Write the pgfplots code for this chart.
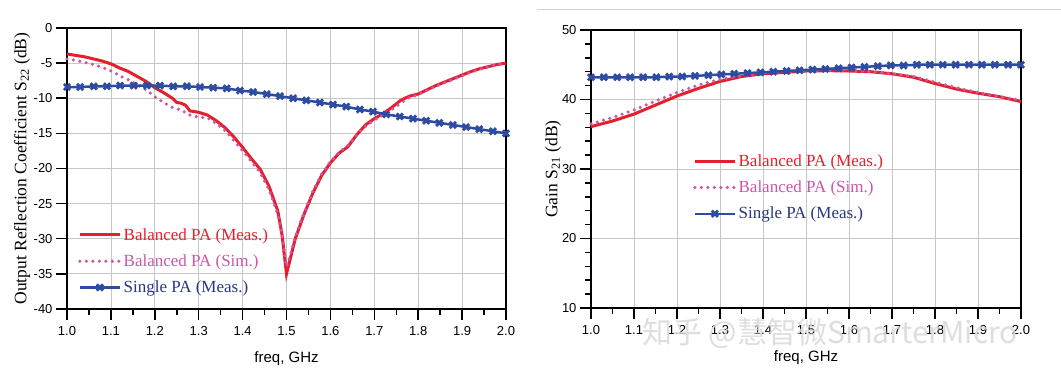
\documentclass[border=0pt]{standalone}
\usepackage{fontspec}
\setmainfont{Liberation Serif}
\setsansfont{Liberation Sans}
\newfontfamily\cjk{Noto Sans CJK SC}
\usepackage{pgfplots}
\pgfplotsset{compat=1.18}
\definecolor{cred}{RGB}{228,32,44}
\definecolor{cpink}{RGB}{205,85,170}
\definecolor{cblue}{RGB}{45,75,160}
\definecolor{cnavy}{RGB}{40,55,130}
\pgfplotsset{
  myax/.style={
    scale only axis,
    clip=false,
    xmin=1, xmax=2,
    xtick={1.0,1.1,1.2,1.3,1.4,1.5,1.6,1.7,1.8,1.9,2.0},
    minor x tick num=1,
    xtick pos=left, ytick pos=left,
    xmajorgrids, ymajorgrids,
    major grid style={gray!45, line width=0.8pt},
    tick align=outside,
    major tick length=11pt, minor tick length=6pt,
    every major tick/.style={black, line width=1.5pt},
    every minor tick/.style={black, line width=1.5pt},
    axis line style={black, line width=1.2pt},
    tick label style={font=\sffamily\fontsize{13}{15}\selectfont},
    /pgf/number format/assume math mode=true,
    x tick label style={yshift=-3pt, /pgf/number format/fixed, /pgf/number format/fixed zerofill, /pgf/number format/precision=1},
    xlabel={freq, GHz},
    xlabel style={font=\sffamily\fontsize{15}{17}\selectfont, anchor=center},
    ylabel style={font=\fontsize{17.5}{19}\selectfont, anchor=center},
    legend style={draw=none, fill=none, font=\fontsize{17}{19}\selectfont, anchor=north west, row sep=9pt, inner sep=0pt, nodes={inner sep=2pt}},
    legend cell align=left,
    legend image code/.code={\draw[mark repeat=2,mark phase=2,##1] plot coordinates {(0pt,0pt) (20pt,0pt) (40pt,0pt)};},
  },
  meas/.style={cred, line width=3pt, no markers},
  sim/.style={cpink, line width=3.5pt, line cap=round, dash pattern=on 0pt off 6.5pt, no markers},
  single/.style={cblue, line width=2.5pt, mark=x, mark size=4.4pt, mark options={solid, line width=2.8pt}},
}
\begin{document}
\begin{tikzpicture}
\useasboundingbox (0,0) rectangle (1061pt,377pt);
\fill[white] (0,0) rectangle (1061pt,377pt);
\draw[gray!35, line width=0.8pt] (537pt,368pt) -- (1061pt,368pt);
% Left panel
\begin{axis}[myax,
  at={(67pt,68pt)}, anchor=south west,
  width=439pt, height=281pt,
  ymin=-40, ymax=0,
  ytick={-40,-35,-30,-25,-20,-15,-10,-5,0},
  ylabel={Output Reflection Coefficient S\textsubscript{22} (dB)},
  ylabel style={at={(axis description cs:-0.1025,0.5)}},
  xlabel style={at={(axis description cs:0.5,-0.178)}},
  legend style={at={(0.025,0.295)}},
]
\addplot[meas] coordinates {
(1.00,-3.7) (1.02,-3.9) (1.04,-4.1) (1.06,-4.4) (1.08,-4.7) (1.10,-5.1) (1.12,-5.7) (1.14,-6.2) (1.16,-6.9) (1.18,-7.6) (1.20,-8.5) (1.22,-9.2) (1.24,-10.0) (1.25,-10.6) (1.26,-10.7) (1.27,-11.0) (1.28,-11.8) (1.30,-12.0) (1.32,-12.4) (1.34,-13.2) (1.36,-14.2) (1.38,-15.5) (1.40,-17.0) (1.42,-18.6) (1.44,-20.1) (1.46,-22.5) (1.48,-26.0) (1.49,-29.5) (1.50,-35.0) (1.51,-32.5) (1.52,-30.0) (1.54,-26.5) (1.56,-23.5) (1.58,-21.0) (1.60,-19.2) (1.62,-17.8) (1.64,-16.9) (1.66,-15.2) (1.68,-13.8) (1.70,-12.9) (1.72,-12.2) (1.74,-11.3) (1.76,-10.3) (1.78,-9.7) (1.80,-9.4) (1.82,-8.8) (1.84,-8.2) (1.86,-7.7) (1.88,-7.2) (1.90,-6.7) (1.92,-6.2) (1.94,-5.8) (1.96,-5.5) (1.98,-5.2) (2.00,-5.0)
};
\addlegendentry{\textcolor{cred}{Balanced PA (Meas.)}}
\addplot[sim] coordinates {
(1.00,-4.4) (1.02,-4.6) (1.04,-4.9) (1.06,-5.2) (1.08,-5.6) (1.10,-6.1) (1.12,-6.8) (1.14,-7.4) (1.16,-8.1) (1.18,-8.8) (1.20,-9.8) (1.22,-10.6) (1.24,-11.3) (1.26,-11.7) (1.28,-12.4) (1.30,-12.7) (1.32,-12.8) (1.34,-13.6) (1.36,-14.6) (1.38,-16.0) (1.40,-17.5) (1.42,-19.0) (1.44,-20.6) (1.46,-23.0) (1.48,-26.5) (1.49,-29.5) (1.50,-34.0) (1.51,-32.0) (1.52,-29.7) (1.54,-26.3) (1.56,-23.3) (1.58,-20.8) (1.60,-19.0) (1.62,-17.7) (1.64,-16.7) (1.66,-15.2) (1.68,-14.0) (1.70,-13.1) (1.72,-12.4) (1.74,-11.6) (1.76,-10.7) (1.78,-9.9) (1.80,-9.5) (1.82,-8.9) (1.84,-8.3) (1.86,-7.8) (1.88,-7.3) (1.90,-6.8) (1.92,-6.3) (1.94,-5.9) (1.96,-5.5) (1.98,-5.2) (2.00,-5.0)
};
\addlegendentry{\textcolor{cpink}{Balanced PA (Sim.)}}
\addplot[single] coordinates {
(1.000,-8.4) (1.030,-8.4) (1.061,-8.3) (1.091,-8.3) (1.121,-8.2) (1.152,-8.2) (1.182,-8.2) (1.212,-8.2) (1.242,-8.3) (1.273,-8.3) (1.303,-8.4) (1.333,-8.5) (1.364,-8.6) (1.394,-8.9) (1.424,-9.1) (1.455,-9.4) (1.485,-9.7) (1.515,-10.0) (1.545,-10.3) (1.576,-10.6) (1.606,-10.9) (1.636,-11.2) (1.667,-11.6) (1.697,-11.9) (1.727,-12.3) (1.758,-12.6) (1.788,-12.9) (1.818,-13.2) (1.848,-13.5) (1.879,-13.8) (1.909,-14.1) (1.939,-14.4) (1.970,-14.7) (2.000,-15.0)
};
\addlegendentry{\textcolor{cnavy}{Single PA (Meas.)}}
\end{axis}
% Right panel
\begin{axis}[myax,
  at={(591pt,69pt)}, anchor=south west,
  width=430pt, height=278pt,
  ymin=10, ymax=50,
  ytick={10,20,30,40,50},
  minor y tick num=4,
  ylabel={Gain S\textsubscript{21} (dB)},
  ylabel style={at={(axis description cs:-0.088,0.5)}},
  xlabel style={at={(axis description cs:0.5,-0.18)}},
  legend style={at={(0.237,0.56)}},
]
\addplot[meas] coordinates {
(1.00,36.1) (1.05,36.9) (1.10,37.9) (1.15,39.2) (1.20,40.5) (1.25,41.6) (1.30,42.6) (1.35,43.3) (1.40,43.7) (1.45,43.9) (1.50,44.1) (1.55,44.15) (1.60,44.1) (1.65,44.0) (1.70,43.7) (1.75,43.2) (1.80,42.3) (1.85,41.5) (1.90,40.9) (1.95,40.4) (2.00,39.7)
};
\addlegendentry{\textcolor{cred}{Balanced PA (Meas.)}}
\addplot[sim] coordinates {
(1.00,36.5) (1.05,37.4) (1.10,38.5) (1.15,39.8) (1.20,41.0) (1.25,42.1) (1.30,42.9) (1.35,43.4) (1.40,43.8) (1.45,44.0) (1.50,44.1) (1.55,44.2) (1.60,44.2) (1.65,44.0) (1.70,43.7) (1.75,43.3) (1.80,42.5) (1.85,41.7) (1.90,41.0) (1.95,40.4) (2.00,39.9)
};
\addlegendentry{\textcolor{cpink}{Balanced PA (Sim.)}}
\addplot[single] coordinates {
(1.000,43.2) (1.030,43.2) (1.061,43.2) (1.091,43.2) (1.121,43.2) (1.152,43.2) (1.182,43.3) (1.212,43.3) (1.242,43.4) (1.273,43.5) (1.303,43.6) (1.333,43.7) (1.364,43.8) (1.394,43.9) (1.424,44.0) (1.455,44.1) (1.485,44.2) (1.515,44.3) (1.545,44.4) (1.576,44.5) (1.606,44.6) (1.636,44.7) (1.667,44.8) (1.697,44.9) (1.727,44.9) (1.758,45.0) (1.788,45.0) (1.818,45.0) (1.848,45.0) (1.879,45.0) (1.909,45.0) (1.939,45.0) (1.970,45.0) (2.000,45.0)
};
\addlegendentry{\textcolor{cnavy}{Single PA (Meas.)}}
\end{axis}
\node[text=gray!30, opacity=0.85, font=\cjk\fontsize{30}{32}\selectfont, inner sep=0pt] at (830pt,44pt) {知乎 @慧智微SmarterMicro};
\end{tikzpicture}
\end{document}
